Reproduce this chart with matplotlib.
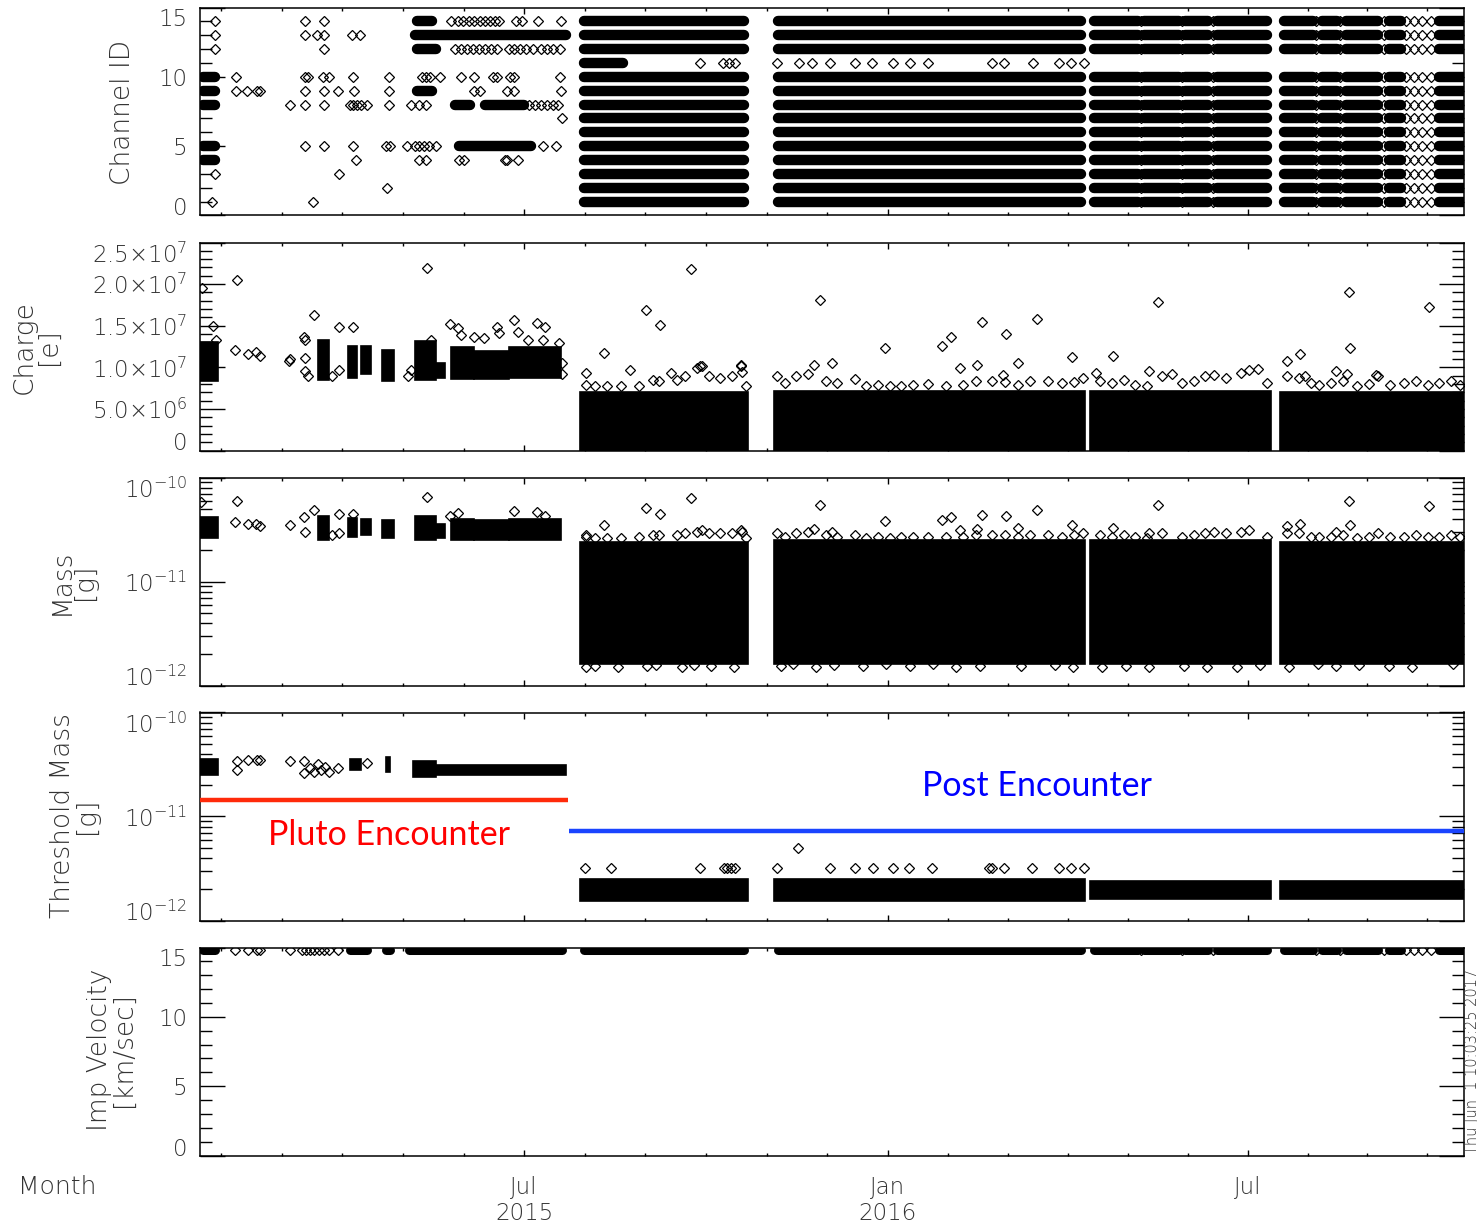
import numpy as np
import matplotlib
matplotlib.use("Agg")
import matplotlib.pyplot as plt
import matplotlib.dates as mdates
from matplotlib.ticker import FixedLocator, FixedFormatter, MultipleLocator, LogLocator, NullFormatter, FuncFormatter
from datetime import datetime

plt.rcParams.update({
    "font.family": ["DejaVu Sans"],
    "font.weight": 200,
    "mathtext.default": "regular",
})

W, H = 1477, 1226
T0 = mdates.date2num(datetime(2015, 1, 1))
TXT = "#333333"

# ---- time axis (days since 2015-01-01) ----
X_START, X_END = 17.0, 656.5
MAJOR_DAYS = [181, 365, 547]
MAJOR_LABELS = ["Jul\n2015", "Jan\n2016", "Jul"]

# dense observation blocks after the encounter
BLOCK_START = [209.4, 307.5, 467.5, 563.6]
BLOCK_END = [294.1, 464.5, 559.0, 656.5]

# continuous runs inside those blocks and the isolated events between runs
SEG_START = [211.5, 309.5, 469.5, 494.8, 515.5, 531.7, 565.6, 584.8, 596.7, 618.7, 644.0]
SEG_END = [292.0, 462.5, 491.6, 512.5, 527.2, 557.0, 580.3, 592.4, 613.0, 624.8, 656.5]
GAP_DAYS = [493.3, 514.0, 529.7, 581.8, 594.0, 615.9, 627.0, 631.0, 635.5, 640.0]

# ---- Channel ID ----
DENSE_CHANNELS = [1, 2, 3, 4, 5, 6, 7, 8, 9, 10, 12, 13, 14]
CH11_RUN = [211.5, 230.9]
CH11_DAYS = [270.0, 281.8, 284.8, 287.7, 309.0, 320.3, 326.7, 335.6, 348.3, 357.2,
             367.5, 376.4, 385.3, 417.8, 423.7, 438.5, 451.8, 457.7, 464.2]

EARLY_CH14 = [24.6, 70.0, 79.8, 144.2, 147.4, 150.0, 153.0, 155.5, 158.6, 161.0, 163.6,
              166.0, 168.2, 177.0, 179.8, 188.1, 199.5]
EARLY_CH13 = [24.6, 70.0, 76.4, 79.8, 93.8, 98.0]
EARLY_CH12 = [24.6, 79.8, 145.9, 149.0, 152.0, 155.0, 158.0, 161.0, 164.0, 167.2, 173.2,
              176.0, 179.0, 182.0, 185.4, 189.4, 192.5, 195.5, 199.0]
EARLY_CH10 = [35.4, 70.0, 71.5, 79.2, 82.2, 94.2, 112.6, 129.5, 131.5, 133.3, 138.2,
              148.9, 155.6, 165.3, 167.2, 174.0, 175.9, 199.1]
EARLY_CH9 = [35.4, 40.8, 45.8, 47.3, 70.0, 79.8, 87.0, 94.7, 112.6, 155.6, 158.5,
             172.1, 175.9, 199.5]
EARLY_CH8 = [62.3, 70.0, 79.8, 92.8, 94.5, 96.5, 98.4, 101.5, 112.6, 123.7, 127.6,
             131.5, 183.6, 186.5, 189.5, 192.5, 195.5, 198.2]
EARLY_CH7 = [200.0]
EARLY_CH5 = [70.0, 79.8, 94.2, 111.1, 113.1, 121.8, 125.7, 128.0, 130.5, 133.0, 136.3,
             190.4, 197.2]
EARLY_CH4 = [95.7, 127.6, 131.5, 147.9, 150.8, 171.1, 172.1, 177.8]
EARLY_CH3 = [24.6, 87.4]
EARLY_CH2 = [111.7]
EARLY_CH1 = [23.0, 74.4]

RUN_CH = [10, 9, 8, 5, 4, 14, 13, 12, 9, 8, 8, 5]
RUN_START = [18.5, 18.5, 18.5, 18.5, 18.5, 126.7, 125.7, 126.7, 126.6, 145.9, 161.4, 147.9]
RUN_END = [24.6, 24.6, 24.6, 24.6, 24.6, 134.3, 202.0, 136.3, 134.4, 153.7, 180.8, 184.7]

# ---- early dense columns (shared days) ----
COL_START = [16.8, 76.7, 92.0, 98.4, 109.0, 125.7, 136.3, 143.9, 155.5, 173.2]
COL_END = [26.1, 82.2, 96.6, 103.5, 115.1, 136.3, 141.1, 155.5, 173.2, 199.5]
CHARGE_COL_LO = [0.83e7, 0.85e7, 0.87e7, 0.92e7, 0.84e7, 0.85e7, 0.87e7, 0.86e7, 0.86e7, 0.87e7]
CHARGE_COL_HI = [1.30e7, 1.33e7, 1.26e7, 1.26e7, 1.21e7, 1.32e7, 1.05e7, 1.24e7, 1.20e7, 1.24e7]
MASS_COL_LO = [2.6e-11, 2.5e-11, 2.7e-11, 2.8e-11, 2.6e-11, 2.5e-11, 2.6e-11, 2.5e-11, 2.5e-11, 2.5e-11]
MASS_COL_HI = [4.2e-11, 4.3e-11, 4.1e-11, 4.0e-11, 3.9e-11, 4.3e-11, 3.6e-11, 4.0e-11, 3.9e-11, 4.0e-11]

CHARGE_BLOCK_TOP = [7.0e6, 7.1e6, 7.2e6, 7.0e6]
MASS_BLOCK_LO = [1.6e-12, 1.6e-12, 1.6e-12, 1.6e-12]
MASS_BLOCK_HI = [2.4e-11, 2.5e-11, 2.5e-11, 2.4e-11]

CHARGE_OUT_DAY = [18.0, 23.8, 25.0, 35.5, 34.7, 41.3, 45.3, 47.3, 62.5, 62.0, 69.6, 70.0,
                  70.1, 70.1, 71.6, 74.6, 84.0, 87.1, 87.1, 94.4, 122.0, 123.8, 132.0, 134.0,
                  143.4, 147.4, 149.0, 155.8, 160.6, 167.4, 168.2, 176.1, 178.0, 182.8, 187.7,
                  191.4, 190.4, 198.4, 200.3, 200.3,
                  212.2, 221.3, 234.4, 242.5, 249.9, 255.1, 265.6, 269.8, 290.5, 327.4, 330.5,
                  336.5, 363.7, 392.2, 397.2, 401.6, 410.3, 412.8, 423.5, 425.0, 431.1, 440.7,
                  458.4, 470.5, 479.1, 497.1, 501.9, 509.0, 552.4, 567.1, 573.7, 576.0, 591.7,
                  598.2, 598.8, 597.5, 612.1, 638.9]
CHARGE_OUT_VAL = [1.95e7, 1.50e7, 1.33e7, 2.05e7, 1.21e7, 1.16e7, 1.18e7, 1.13e7, 1.10e7, 1.08e7,
                  1.37e7, 1.33e7, 1.11e7, 0.95e7, 0.89e7, 1.63e7, 0.89e7, 1.48e7, 0.97e7, 1.48e7,
                  0.89e7, 0.97e7, 2.19e7, 1.33e7, 1.52e7, 1.47e7, 1.39e7, 1.37e7, 1.35e7, 1.49e7,
                  1.41e7, 1.57e7, 1.43e7, 1.33e7, 1.53e7, 1.49e7, 1.33e7, 1.29e7, 1.05e7, 0.92e7,
                  0.93e7, 1.17e7, 0.97e7, 1.69e7, 1.51e7, 0.93e7, 2.18e7, 1.02e7, 1.03e7, 1.03e7,
                  1.81e7, 1.05e7, 1.23e7, 1.26e7, 1.36e7, 0.99e7, 1.03e7, 1.55e7, 0.91e7, 1.40e7,
                  1.05e7, 1.58e7, 1.12e7, 0.93e7, 1.14e7, 0.96e7, 1.79e7, 0.92e7, 0.98e7, 1.07e7,
                  1.16e7, 0.89e7, 0.96e7, 1.91e7, 1.23e7, 0.92e7, 0.91e7, 1.72e7]

# events sitting just above the dense post-encounter clouds
FRINGE_DAY = [212.2, 216.7, 222.8, 229.9, 239.0, 246.3, 249.1, 258.2, 262.6, 268.5, 270.8,
              274.4, 280.3, 286.2, 290.5, 291.3, 293.1,
              309.0, 312.8, 318.7, 324.7, 333.5, 339.5, 348.3, 354.2, 360.1, 366.1, 371.9,
              377.9, 385.3, 394.2, 403.0, 409.5, 417.8, 424.3, 431.1, 437.0, 445.9, 453.3,
              459.2, 463.6,
              472.5, 478.4, 484.3, 490.2, 496.2, 503.5, 513.9, 519.8, 525.6, 530.2, 536.1,
              543.5, 547.9, 556.8,
              567.1, 573.0, 579.0, 583.3, 589.3, 595.2, 602.5, 608.5, 612.9, 618.9, 626.2,
              632.1, 638.1, 643.9, 649.9, 654.3]
CHARGE_FRINGE = [7.9e6, 7.8e6, 7.7e6, 7.7e6, 7.8e6, 8.5e6, 8.3e6, 8.5e6, 8.9e6, 9.9e6, 10.2e6,
                 8.9e6, 8.7e6, 8.9e6, 10.2e6, 9.4e6, 7.7e6,
                 8.9e6, 8.1e6, 8.9e6, 9.2e6, 8.3e6, 8.1e6, 8.6e6, 7.7e6, 7.9e6, 7.7e6, 7.8e6,
                 7.9e6, 8.0e6, 7.8e6, 7.9e6, 8.4e6, 8.4e6, 8.2e6, 7.9e6, 8.4e6, 8.3e6, 8.1e6,
                 8.2e6, 8.7e6,
                 8.3e6, 8.1e6, 8.5e6, 7.9e6, 7.7e6, 8.9e6, 8.1e6, 8.4e6, 8.9e6, 9.1e6, 8.7e6,
                 9.3e6, 9.7e6, 8.1e6,
                 8.9e6, 8.7e6, 8.1e6, 7.9e6, 8.1e6, 8.3e6, 7.8e6, 8.0e6, 8.9e6, 7.9e6, 8.1e6,
                 8.3e6, 7.9e6, 8.1e6, 8.3e6, 7.9e6]
MASS_FRINGE = [2.7e-11, 2.6e-11, 2.6e-11, 2.6e-11, 2.7e-11, 2.8e-11, 2.8e-11, 2.8e-11, 2.9e-11,
               3.0e-11, 3.1e-11, 2.9e-11, 2.9e-11, 2.9e-11, 3.1e-11, 3.0e-11, 2.6e-11,
               2.9e-11, 2.7e-11, 2.9e-11, 3.0e-11, 2.8e-11, 2.7e-11, 2.8e-11, 2.6e-11, 2.7e-11,
               2.6e-11, 2.7e-11, 2.7e-11, 2.7e-11, 2.7e-11, 2.7e-11, 2.8e-11, 2.8e-11, 2.8e-11,
               2.7e-11, 2.8e-11, 2.8e-11, 2.7e-11, 2.8e-11, 2.9e-11,
               2.8e-11, 2.7e-11, 2.8e-11, 2.7e-11, 2.6e-11, 2.9e-11, 2.7e-11, 2.8e-11, 2.9e-11,
               3.0e-11, 2.9e-11, 3.0e-11, 3.1e-11, 2.7e-11,
               2.9e-11, 2.9e-11, 2.7e-11, 2.7e-11, 2.7e-11, 2.8e-11, 2.6e-11, 2.7e-11, 2.9e-11,
               2.7e-11, 2.7e-11, 2.8e-11, 2.7e-11, 2.7e-11, 2.8e-11, 2.7e-11]
MASS_LOW_DAY = [212.2, 216.7, 228.3, 243.1, 247.5, 260.8, 266.7, 275.5, 287.4, 311.0, 317.0,
                328.7, 337.6, 352.3, 364.2, 376.0, 387.8, 399.6, 411.4, 432.2, 449.8, 458.7,
                473.5, 485.3, 497.1, 514.8, 526.6, 541.5, 553.3, 568.1, 582.8, 591.8, 603.5,
                618.4, 630.2, 651.0]
MASS_LOW_VAL = [1.52e-12, 1.55e-12, 1.52e-12, 1.55e-12, 1.58e-12, 1.52e-12, 1.56e-12, 1.55e-12,
                1.52e-12, 1.55e-12, 1.60e-12, 1.52e-12, 1.58e-12, 1.55e-12, 1.60e-12, 1.55e-12,
                1.62e-12, 1.52e-12, 1.55e-12, 1.55e-12, 1.56e-12, 1.52e-12, 1.52e-12, 1.55e-12,
                1.52e-12, 1.55e-12, 1.52e-12, 1.52e-12, 1.56e-12, 1.52e-12, 1.60e-12, 1.55e-12,
                1.56e-12, 1.55e-12, 1.52e-12, 1.62e-12]

MASS_OUT_DAY = [17.5, 35.5, 34.7, 41.3, 45.3, 47.3, 62.5, 69.6, 70.1, 74.6, 84.0, 87.1, 87.1,
                94.4, 132.0, 143.4, 147.4, 176.1, 187.7, 191.4,
                212.2, 221.3, 242.5, 249.9, 265.6, 327.4, 330.5, 336.5, 363.7, 392.2, 397.2,
                401.6, 410.3, 412.8, 425.0, 431.1, 440.7, 458.4, 479.1, 497.1, 501.9, 567.1,
                573.7, 591.7, 598.2, 598.8, 638.9]
MASS_OUT_VAL = [5.8e-11, 6.0e-11, 3.7e-11, 3.6e-11, 3.6e-11, 3.4e-11, 3.5e-11, 4.2e-11, 3.0e-11,
                4.9e-11, 2.8e-11, 4.5e-11, 2.9e-11, 4.5e-11, 6.5e-11, 4.3e-11, 4.6e-11, 4.8e-11,
                4.7e-11, 4.3e-11,
                2.8e-11, 3.5e-11, 5.1e-11, 4.5e-11, 6.4e-11, 3.2e-11, 5.5e-11, 3.0e-11, 3.8e-11,
                3.9e-11, 4.2e-11, 3.1e-11, 3.2e-11, 4.4e-11, 4.3e-11, 3.3e-11, 4.9e-11, 3.5e-11,
                3.3e-11, 2.9e-11, 5.4e-11, 3.4e-11, 3.6e-11, 3.0e-11, 5.9e-11, 3.5e-11, 5.3e-11]

# ---- threshold mass ----
THR_COL_START = [16.8, 92.8, 111.1, 125.0, 136.3]
THR_COL_END = [26.1, 98.4, 113.1, 136.3, 202.0]
THR_COL_LO = [2.5e-11, 2.8e-11, 2.7e-11, 2.4e-11, 2.5e-11]
THR_COL_HI = [3.6e-11, 3.6e-11, 3.7e-11, 3.4e-11, 3.1e-11]
THR_OUT_DAY = [35.5, 35.5, 41.3, 45.8, 47.3, 62.5, 69.6, 69.6, 72.6, 74.6, 76.5, 78.2, 80.2,
               82.2, 87.0, 101.4,
               211.7, 224.8, 269.8, 282.0, 283.5, 285.5, 287.7, 309.0, 319.6, 335.5, 348.2,
               357.3, 367.4, 375.8, 387.4, 416.4, 417.9, 423.7, 437.9, 451.8, 457.7, 464.3]
THR_OUT_VAL = [3.4e-11, 2.8e-11, 3.5e-11, 3.5e-11, 3.5e-11, 3.4e-11, 3.4e-11, 2.6e-11, 2.9e-11,
               2.7e-11, 3.2e-11, 2.8e-11, 3.0e-11, 2.7e-11, 2.9e-11, 3.3e-11,
               3.2e-12, 3.2e-12, 3.2e-12, 3.2e-12, 3.2e-12, 3.2e-12, 3.2e-12, 3.2e-12, 4.95e-12,
               3.2e-12, 3.2e-12, 3.2e-12, 3.2e-12, 3.2e-12, 3.2e-12, 3.2e-12, 3.2e-12, 3.2e-12,
               3.2e-12, 3.2e-12, 3.2e-12, 3.2e-12]
THR_BLOCK_LO = [1.55e-12, 1.55e-12, 1.6e-12, 1.6e-12]
THR_BLOCK_HI = [2.5e-12, 2.5e-12, 2.4e-12, 2.4e-12]

PLUTO_LEVEL, PLUTO_START, PLUTO_END = 1.45e-11, 17.0, 203.1
POST_LEVEL, POST_START, POST_END = 7.3e-12, 203.8, 656.5

# ---- impact velocity ----
VEL_LEVEL = 14.8
VEL_RUN_START = [18.5, 92.8, 111.0, 122.6]
VEL_RUN_END = [24.6, 101.5, 113.0, 200.0]
VEL_DAYS = [34.7, 41.2, 45.8, 47.3, 62.5, 68.6, 70.6, 72.5, 74.8, 77.3, 79.8, 82.5, 87.0]

MS = 4.8


def tx(days):
    return T0 + np.asarray(days, dtype=float)


def diamonds(ax, days, vals, ms=MS):
    ax.plot(tx(days), vals, ls="none", marker="D", ms=ms, mfc="none",
            mec="black", mew=0.9, zorder=3)


def blocks(ax, starts, ends, lo, hi):
    s = tx(starts)
    w = np.asarray(ends) - np.asarray(starts)
    ax.bar(s, np.asarray(hi) - np.asarray(lo), width=w, bottom=lo, align="edge",
           color="black", edgecolor="black", linewidth=1.2, zorder=2)


def runs(ax, level, starts, ends, lw):
    ax.hlines([level] * len(starts), tx(starts), tx(ends), colors="black",
              linewidth=lw, capstyle="round", zorder=2)


def style(ax):
    for sp in ax.spines.values():
        sp.set_linewidth(1.1)
    ax.tick_params(which="both", direction="in", top=True, right=True,
                   labelsize=16.5, labelcolor=TXT, width=1.0)
    ax.tick_params(axis="y", which="major", length=18, pad=9)
    ax.tick_params(axis="y", which="minor", length=8.5)
    ax.tick_params(axis="x", which="major", length=4, pad=15)
    ax.tick_params(axis="x", which="minor", length=2.5)
    ax.set_xlim(tx(X_START), tx(X_END))
    ax.xaxis.set_major_locator(FixedLocator(tx(MAJOR_DAYS)))
    step0 = (MAJOR_DAYS[1] - MAJOR_DAYS[0]) / 6
    step1 = (MAJOR_DAYS[2] - MAJOR_DAYS[1]) / 6
    minor = np.concatenate([MAJOR_DAYS[0] - step0 * np.arange(1, 6),
                            np.linspace(MAJOR_DAYS[0], MAJOR_DAYS[1], 7)[1:-1],
                            np.linspace(MAJOR_DAYS[1], MAJOR_DAYS[2], 7)[1:-1],
                            MAJOR_DAYS[2] + step1 * np.arange(1, 4)])
    ax.xaxis.set_minor_locator(FixedLocator(tx(minor)))
    ax.xaxis.set_major_formatter(NullFormatter())


fig = plt.figure(figsize=(W / 100, H / 100), dpi=100)
left, width, height = 200 / W, 1264 / W, 208 / H
tops = [7.5, 242.5, 477.5, 712.5, 947.5]
axes = [fig.add_axes([left, 1 - (t + 208) / H, width, height]) for t in tops]
ax1, ax2, ax3, ax4, ax5 = axes

# panel 1: channel id
for ch in DENSE_CHANNELS:
    runs(ax1, ch, SEG_START, SEG_END, 7.5)
    diamonds(ax1, GAP_DAYS, [ch] * len(GAP_DAYS))
runs(ax1, 11, CH11_RUN[:1], CH11_RUN[1:], 7.5)
for ch, s, e in zip(RUN_CH, RUN_START, RUN_END):
    runs(ax1, ch, [s], [e], 7.5)
diamonds(ax1, CH11_DAYS, [11] * len(CH11_DAYS))
for ch, days in [(14, EARLY_CH14), (13, EARLY_CH13), (12, EARLY_CH12), (10, EARLY_CH10),
                 (9, EARLY_CH9), (8, EARLY_CH8), (7, EARLY_CH7), (5, EARLY_CH5),
                 (4, EARLY_CH4), (3, EARLY_CH3), (2, EARLY_CH2), (1, EARLY_CH1)]:
    diamonds(ax1, days, [ch] * len(days))
ax1.set_ylim(0, 15)
ax1.yaxis.set_major_locator(FixedLocator([0, 5, 10, 15]))
ax1.yaxis.set_minor_locator(MultipleLocator(1))

# panel 2: charge
blocks(ax2, COL_START, COL_END, CHARGE_COL_LO, CHARGE_COL_HI)
blocks(ax2, BLOCK_START, BLOCK_END, [0] * 4, CHARGE_BLOCK_TOP)
diamonds(ax2, FRINGE_DAY, CHARGE_FRINGE)
diamonds(ax2, CHARGE_OUT_DAY, CHARGE_OUT_VAL)
ax2.set_ylim(0, 2.5e7)
ax2.yaxis.set_major_locator(FixedLocator(np.arange(0, 2.6e7, 5e6)))
ax2.yaxis.set_minor_locator(FixedLocator(np.arange(0, 2.6e7, 1e6)))


def charge_fmt(v, _):
    if v <= 0:
        return "0"
    e = int(np.floor(np.log10(v)))
    return r"$%.1f{\times}10^{%d}$" % (v / 10 ** e, e)


ax2.yaxis.set_major_formatter(FuncFormatter(charge_fmt))

# panel 3: mass
blocks(ax3, COL_START, COL_END, MASS_COL_LO, MASS_COL_HI)
blocks(ax3, BLOCK_START, BLOCK_END, MASS_BLOCK_LO, MASS_BLOCK_HI)
diamonds(ax3, FRINGE_DAY, MASS_FRINGE)
diamonds(ax3, MASS_LOW_DAY, MASS_LOW_VAL)
diamonds(ax3, MASS_OUT_DAY, MASS_OUT_VAL)

# panel 4: threshold mass
blocks(ax4, THR_COL_START, THR_COL_END, THR_COL_LO, THR_COL_HI)
blocks(ax4, BLOCK_START, BLOCK_END, THR_BLOCK_LO, THR_BLOCK_HI)
diamonds(ax4, THR_OUT_DAY, THR_OUT_VAL)
ax4.hlines(PLUTO_LEVEL, tx(PLUTO_START), tx(PLUTO_END), colors="#ff2a0a", linewidth=3.2, zorder=4)
ax4.hlines(POST_LEVEL, tx(POST_START), tx(POST_END), colors="#1a44ff", linewidth=3.2, zorder=4)
ax4.text(0.1495, 0.41, "Pluto Encounter", transform=ax4.transAxes, ha="center", va="center",
         color="#ff0000", fontsize=24.5, fontfamily="Lato", fontweight="normal")
ax4.text(0.662, 0.646, "Post Encounter", transform=ax4.transAxes, ha="center", va="center",
         color="#0000ff", fontsize=24.5, fontfamily="Lato", fontweight="normal")

for ax in (ax3, ax4):
    ax.set_yscale("log")
    ax.set_ylim(1e-12, 1e-10)
    ax.yaxis.set_major_locator(FixedLocator([1e-12, 1e-11, 1e-10]))
    ax.yaxis.set_minor_locator(LogLocator(base=10, subs=np.arange(2, 10)))
    ax.yaxis.set_minor_formatter(NullFormatter())
    ax.yaxis.set_major_formatter(FuncFormatter(
        lambda v, _: r"$10^{%d}$" % int(round(np.log10(v)))))

# panel 5: impact velocity
runs(ax5, VEL_LEVEL, SEG_START, SEG_END, 6.5)
runs(ax5, VEL_LEVEL, VEL_RUN_START, VEL_RUN_END, 6.5)
diamonds(ax5, GAP_DAYS, [VEL_LEVEL] * len(GAP_DAYS))
diamonds(ax5, VEL_DAYS, [VEL_LEVEL] * len(VEL_DAYS))
ax5.set_ylim(0, 15)
ax5.yaxis.set_major_locator(FixedLocator([0, 5, 10, 15]))
ax5.yaxis.set_minor_locator(MultipleLocator(1))

for ax in axes:
    style(ax)
ax5.xaxis.set_major_formatter(FixedFormatter(MAJOR_LABELS))
for lab in ax5.get_xticklabels():
    lab.set_linespacing(1.15)

# IDL keeps the end labels inside the axis range
for ax in axes:
    ticks = ax.yaxis.get_major_ticks()
    ticks[0].label1.set_verticalalignment("baseline")
    ticks[-1].label1.set_verticalalignment("top")

# y labels
lab_kw = dict(rotation=90, ha="center", va="center", fontsize=19, color=TXT,
              linespacing=0.95, multialignment="center")
fig.text(122 / W, 1 - 112 / H, "Channel ID", **lab_kw)
fig.text(36 / W, 1 - 347 / H, "Charge\n[e]", **lab_kw)
fig.text(73 / W, 1 - 582 / H, "Mass\n[g]", **lab_kw)
fig.text(74 / W, 1 - 816 / H, "Threshold Mass\n[g]", **lab_kw)
fig.text(111 / W, 1 - 1050 / H, "Imp Velocity\n[km/sec]", **lab_kw)
fig.text(18 / W, 1 - 1187 / H, "Month", ha="left", va="center", fontsize=18, color=TXT)
fig.text(1472 / W, 1 - 1154 / H, "Thu Jun  1 10:03:25 2017", rotation=90, ha="center",
         va="bottom", fontsize=10.5, color="#333333")

fig.savefig("out.png", dpi=100)
